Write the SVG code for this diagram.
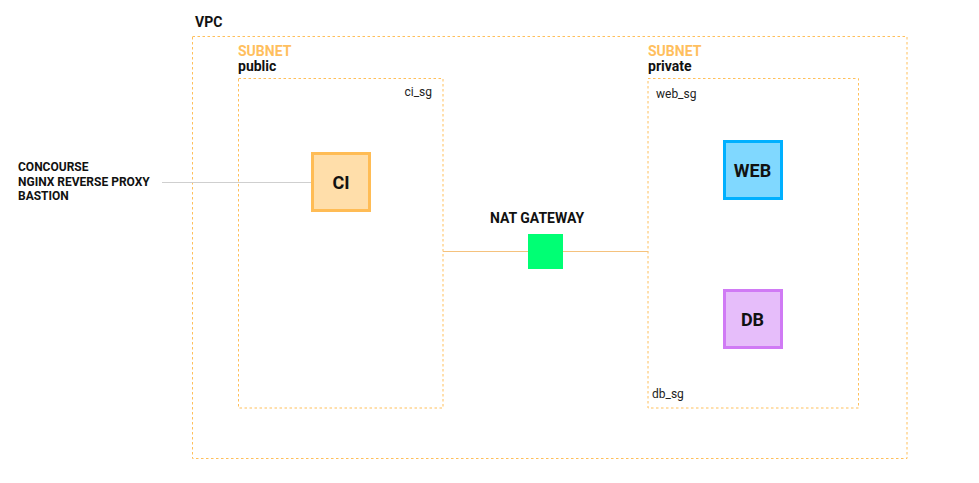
<svg xmlns="http://www.w3.org/2000/svg" width="979" height="483" viewBox="0 0 979 483">
<style>
.zone{fill:none;stroke:#ffbf5a;stroke-width:1;stroke-dasharray:2.5,2.5}
.t{font-family:Roboto,"Liberation Sans",sans-serif;fill:#111}
.b{font-weight:bold}
.sub{font-family:Roboto,"Liberation Sans",sans-serif;font-weight:bold;font-size:14px;fill:#ffbf5e}
.sg{font-family:Roboto,"Liberation Sans",sans-serif;font-size:12px;fill:#222}
.node{font-family:Roboto,"Liberation Sans",sans-serif;font-weight:bold;font-size:18px;fill:#111;text-anchor:middle}
</style>
<rect width="979" height="483" fill="#fff"/>
<g id="vpc">
<rect class="zone" x="192.5" y="36.5" width="714.5" height="422"/>
<text class="t b" x="195" y="27" font-size="14">VPC</text>
</g>
<g id="subnet-public">
<rect class="zone" x="238.5" y="78.5" width="204.5" height="329.5"/>
<text class="sub" x="238" y="56">SUBNET</text>
<text class="t b" x="238" y="70.5" font-size="14">public</text>
<text class="sg" x="432" y="96" text-anchor="end">ci_sg</text>
</g>
<g id="subnet-private">
<rect class="zone" x="648" y="78.5" width="210.5" height="329.5"/>
<text class="sub" x="648" y="56">SUBNET</text>
<text class="t b" x="648" y="70.5" font-size="14">private</text>
<text class="sg" x="656" y="97.5">web_sg</text>
<text class="sg" x="652" y="397.5">db_sg</text>
</g>
<g id="connectors">
<line x1="162" y1="182.5" x2="312" y2="182.5" stroke="#cfcfcf" stroke-width="1"/>
<line x1="443" y1="251.5" x2="648" y2="251.5" stroke="#f5c27d" stroke-width="1"/>
</g>
<g id="external">
<text class="t b" x="18" y="171" font-size="12">CONCOURSE</text>
<text class="t b" x="18" y="185.5" font-size="12">NGINX REVERSE PROXY</text>
<text class="t b" x="18" y="200" font-size="12">BASTION</text>
</g>
<g id="ci">
<rect x="312.5" y="153.5" width="57" height="57" fill="#ffdeaa" stroke="#ffbc55" stroke-width="3"/>
<text class="node" x="341" y="188.5">CI</text>
</g>
<g id="nat">
<rect x="528" y="234" width="35" height="35" fill="#00ff74"/>
<text class="t b" x="537" y="223" font-size="14" text-anchor="middle">NAT GATEWAY</text>
</g>
<g id="web">
<rect x="724.5" y="141.5" width="57" height="57" fill="#80d8ff" stroke="#00b0ff" stroke-width="3"/>
<text class="node" x="752.5" y="176.5">WEB</text>
</g>
<g id="db">
<rect x="724.5" y="290.5" width="57" height="57" fill="#e6bdfa" stroke="#d07af5" stroke-width="3"/>
<text class="node" x="752.5" y="325.5">DB</text>
</g>
</svg>
